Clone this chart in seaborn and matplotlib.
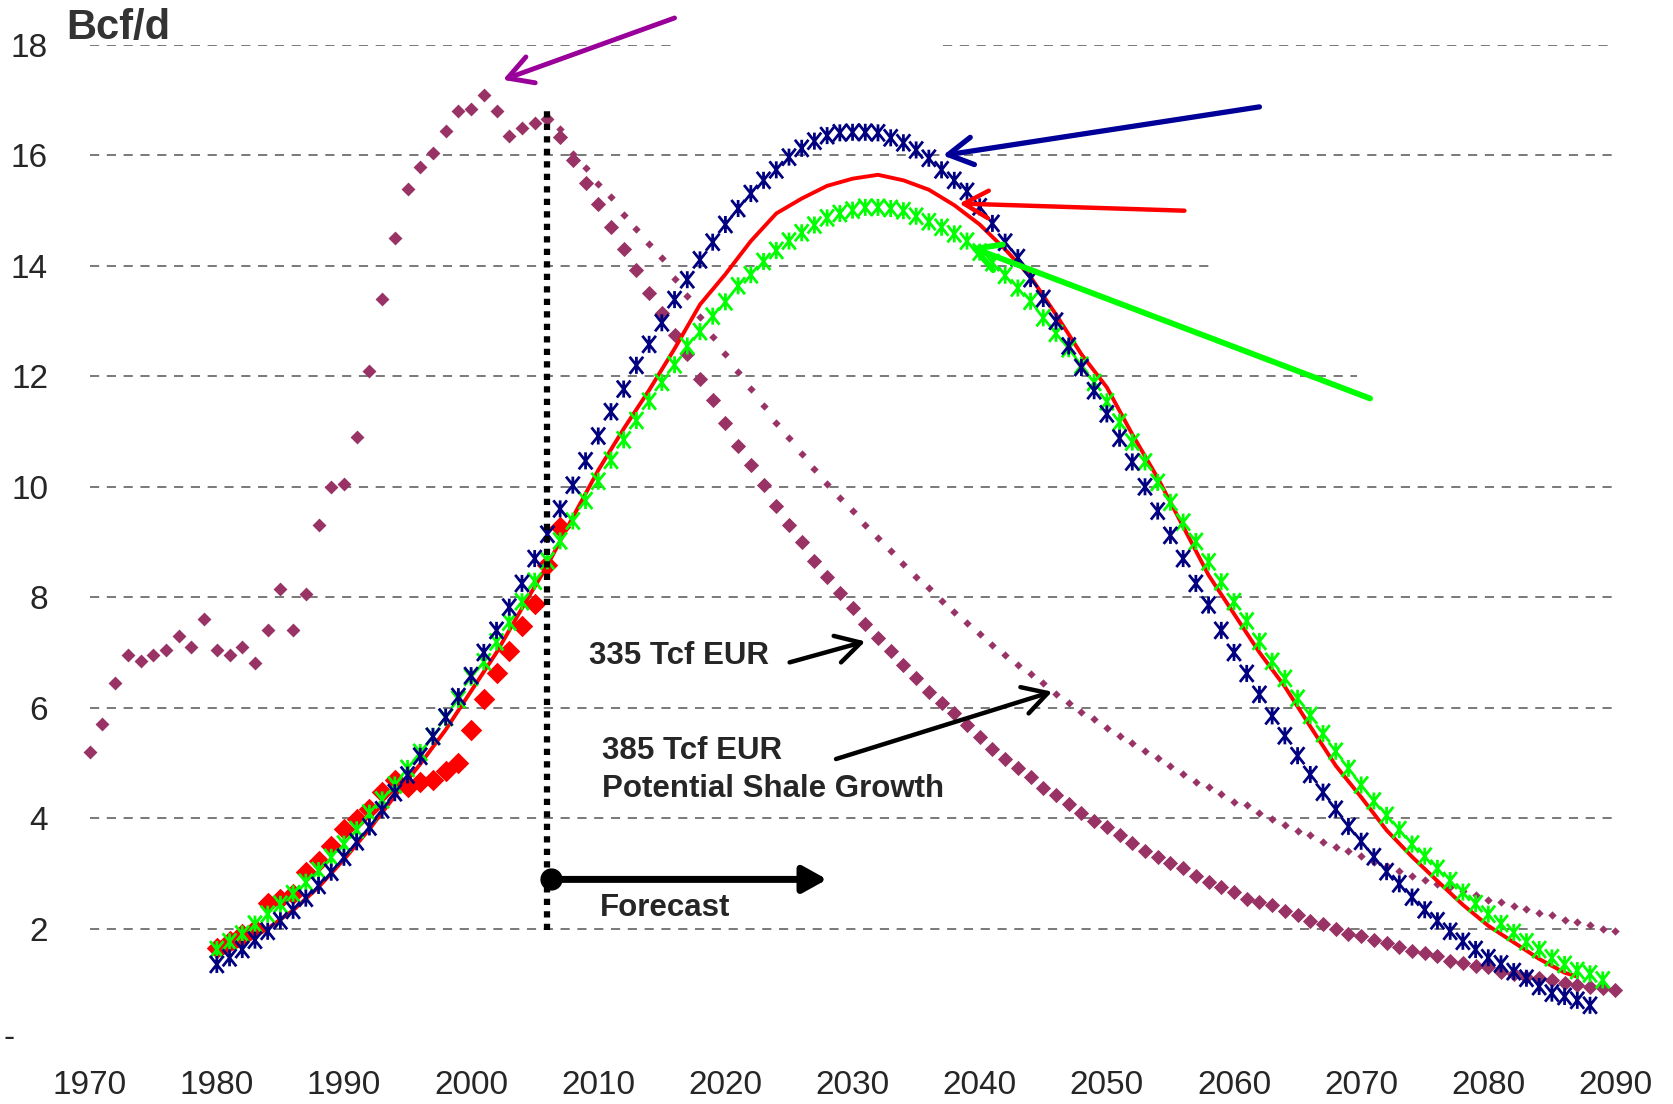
import matplotlib
matplotlib.use("Agg")
import matplotlib.pyplot as plt
from matplotlib.path import Path
import seaborn as sns


# ==========================================
# Data
# ==========================================

hist_years = list(range(1970, 2007))
hist_prod = [
    5.2, 5.7, 6.45, 6.95, 6.85, 6.95, 7.05, 7.3, 7.1, 7.6,
    7.05, 6.95, 7.1, 6.8, 7.4, 8.15, 7.4, 8.05, 9.3, 10.0,
    10.05, 10.9, 12.1, 13.4, 14.5, 15.4, 15.8, 16.05, 16.45, 16.8,
    16.85, 17.1, 16.8, 16.35, 16.5, 16.58, 16.66,
]

fc_years = list(range(2007, 2091))
fc_335 = [
    16.34, 15.92, 15.51, 15.12, 14.7, 14.31, 13.92, 13.51, 13.15, 12.75,
    12.4, 11.95, 11.57, 11.15, 10.74, 10.4, 10.03, 9.66, 9.3, 9.0,
    8.65, 8.36, 8.07, 7.8, 7.52, 7.27, 7.03, 6.78, 6.54, 6.29,
    6.08, 5.9, 5.68, 5.47, 5.25, 5.07, 4.9, 4.75, 4.55, 4.41,
    4.25, 4.09, 3.94, 3.83, 3.7, 3.55, 3.41, 3.3, 3.18, 3.09,
    2.95, 2.84, 2.75, 2.66, 2.54, 2.48, 2.42, 2.32, 2.24, 2.14,
    2.08, 1.99, 1.91, 1.87, 1.79, 1.73, 1.66, 1.59, 1.56, 1.5,
    1.42, 1.38, 1.32, 1.3, 1.22, 1.18, 1.13, 1.1, 1.07, 1.01,
    0.98, 0.95, 0.93, 0.89,
]
fc_385 = [
    16.48, 16.03, 15.77, 15.48, 15.25, 14.93, 14.67, 14.4, 14.15, 13.77,
    13.45, 13.07, 12.71, 12.4, 12.07, 11.77, 11.47, 11.15, 10.89, 10.6,
    10.32, 10.05, 9.8, 9.56, 9.3, 9.07, 8.83, 8.6, 8.36, 8.17,
    7.94, 7.73, 7.53, 7.33, 7.14, 6.96, 6.78, 6.61, 6.45, 6.24,
    6.08, 5.93, 5.8, 5.63, 5.49, 5.36, 5.21, 5.08, 4.95, 4.79,
    4.66, 4.56, 4.44, 4.3, 4.23, 4.09, 3.98, 3.88, 3.77, 3.69,
    3.56, 3.48, 3.41, 3.32, 3.21, 3.13, 3.05, 2.96, 2.87, 2.81,
    2.75, 2.68, 2.61, 2.52, 2.48, 2.4, 2.35, 2.28, 2.24, 2.16,
    2.12, 2.06, 2.0, 1.95,
]

shale_years = list(range(1980, 2008))
shale_prod = [
    1.64, 1.78, 1.9, 2.0, 2.47, 2.53, 2.63, 3.02, 3.23, 3.5,
    3.81, 3.99, 4.16, 4.48, 4.69, 4.57, 4.66, 4.69, 4.85, 5.0,
    5.59, 6.16, 6.63, 7.03, 7.48, 7.88, 8.58, 9.28,
]

fit_years = [
    1980, 1982, 1984, 1986, 1988, 1990, 1992, 1994, 1996, 1998,
    2000, 2002, 2004, 2006, 2008, 2010, 2012, 2014, 2016, 2018,
    2020, 2022, 2024, 2026, 2028, 2030, 2032, 2034, 2036, 2038,
    2040, 2042, 2044, 2046, 2048, 2050, 2052, 2054, 2056, 2058,
    2060, 2062, 2064, 2066, 2068, 2070, 2072, 2074, 2076, 2078,
    2080, 2082, 2084, 2086, 2087,
]
fit_prod = [
    1.5, 1.72, 2.0, 2.33, 2.75, 3.25, 3.8, 4.4, 4.98, 5.6,
    6.3, 7.0, 7.8, 8.58, 9.45, 10.3, 11.05, 11.75, 12.5, 13.3,
    13.85, 14.45, 14.95, 15.22, 15.45, 15.58, 15.65, 15.55, 15.38, 15.1,
    14.75, 14.3, 13.8, 13.12, 12.4, 11.8, 10.95, 10.16, 9.28, 8.4,
    7.7, 7.0, 6.38, 5.66, 4.95, 4.38, 3.78, 3.3, 2.86, 2.43,
    2.05, 1.75, 1.45, 1.2, 1.13,
]

high_years = list(range(1980, 2089))
high_prod = [
    1.35, 1.47, 1.62, 1.79, 1.95, 2.14, 2.33, 2.55, 2.78, 3.02,
    3.29, 3.57, 3.84, 4.15, 4.46, 4.78, 5.12, 5.48, 5.83, 6.2,
    6.58, 7.0, 7.4, 7.82, 8.25, 8.7, 9.14, 9.6, 10.03, 10.47,
    10.92, 11.36, 11.77, 12.2, 12.58, 12.97, 13.39, 13.75, 14.11, 14.43,
    14.75, 15.04, 15.31, 15.55, 15.74, 15.97, 16.13, 16.26, 16.36, 16.41,
    16.42, 16.42, 16.41, 16.32, 16.23, 16.1, 15.95, 15.74, 15.55, 15.35,
    15.07, 14.77, 14.43, 14.15, 13.77, 13.41, 13.0, 12.55, 12.16, 11.74,
    11.32, 10.88, 10.45, 10.0, 9.56, 9.12, 8.7, 8.25, 7.86, 7.4,
    7.0, 6.62, 6.24, 5.85, 5.49, 5.13, 4.79, 4.47, 4.16, 3.85,
    3.58, 3.3, 3.03, 2.81, 2.57, 2.34, 2.14, 1.95, 1.77, 1.62,
    1.47, 1.36, 1.22, 1.1, 0.95, 0.83, 0.77, 0.7, 0.61,
]

low_years = list(range(1980, 2090))
low_prod = [
    1.62, 1.76, 1.9, 2.08, 2.26, 2.44, 2.63, 2.84, 3.05, 3.29,
    3.53, 3.79, 4.09, 4.33, 4.6, 4.9, 5.19, 5.48, 5.82, 6.15,
    6.55, 6.83, 7.19, 7.55, 7.92, 8.29, 8.66, 9.02, 9.38, 9.75,
    10.1, 10.48, 10.85, 11.2, 11.55, 11.89, 12.21, 12.55, 12.81, 13.09,
    13.35, 13.64, 13.84, 14.08, 14.28, 14.45, 14.6, 14.74, 14.87, 14.95,
    15.01, 15.06, 15.06, 15.04, 15.0, 14.9, 14.8, 14.7, 14.58, 14.45,
    14.25, 14.06, 13.83, 13.6, 13.36, 13.06, 12.78, 12.5, 12.2, 11.89,
    11.54, 11.17, 10.81, 10.45, 10.08, 9.72, 9.36, 9.01, 8.64, 8.28,
    7.92, 7.57, 7.2, 6.84, 6.53, 6.17, 5.86, 5.53, 5.21, 4.9,
    4.6, 4.31, 4.05, 3.79, 3.53, 3.31, 3.09, 2.87, 2.66, 2.45,
    2.26, 2.09, 1.93, 1.76, 1.62, 1.47, 1.35, 1.24, 1.18, 1.07,
]

x_ticks = list(range(1970, 2091, 10))
x_tick_labels = [str(t) for t in x_ticks]
y_ticks = list(range(2, 19, 2))
y_tick_labels = [str(t) for t in y_ticks]


# ==========================================
# Style
# ==========================================

sns.set_style("white")
plt.rcParams["font.family"] = ["Liberation Sans", "DejaVu Sans"]

PURPLE = "#993366"
RED = "#FF0000"
NAVY = "#000080"
LIME = "#00FF00"

# Excel style asterisk: an X with a vertical bar through it
asterisk = Path(
    [(0, -1), (0, 1), (-0.8, -1), (0.8, 1), (-0.8, 1), (0.8, -1)],
    [Path.MOVETO, Path.LINETO, Path.MOVETO, Path.LINETO, Path.MOVETO, Path.LINETO],
)


fig = plt.figure(figsize=(16.73, 11.04), dpi=100)
ax = fig.add_axes([0.0536, 0.0589, 0.912, 0.9003])


# ==========================================
# Grid lines (with the gaps of the original)
# ==========================================

grid_kw = dict(color="#555555", linewidth=1.1, linestyles=(0, (6, 5)), zorder=1)
for yv in y_ticks:
    if yv == 18:
        ax.hlines(yv, 1970, 2016.0, **grid_kw)
        ax.hlines(yv, 2037.1, 2090, **grid_kw)
    elif yv == 14:
        ax.hlines(yv, 1970, 2058.2, **grid_kw)
    elif yv == 12:
        ax.hlines(yv, 1970, 2069.7, **grid_kw)
    else:
        ax.hlines(yv, 1970, 2090, **grid_kw)


# ==========================================
# Series
# ==========================================

sns.scatterplot(x=hist_years, y=hist_prod, marker="D", s=50,
                color=PURPLE, linewidth=0, zorder=2, ax=ax, clip_on=False)
sns.scatterplot(x=fc_years, y=fc_335, marker="D", s=60,
                color=PURPLE, linewidth=0, zorder=2, ax=ax, clip_on=False)
sns.scatterplot(x=fc_years, y=fc_385, marker="D", s=18,
                color=PURPLE, linewidth=0, zorder=2, ax=ax, clip_on=False)

sns.scatterplot(x=shale_years, y=shale_prod, marker="D", s=120,
                color=RED, linewidth=0, zorder=3, ax=ax, clip_on=False)

sns.lineplot(x=fit_years, y=fit_prod, color=RED, linewidth=2.8,
             zorder=4, ax=ax)

sns.scatterplot(x=low_years, y=low_prod, marker=asterisk, s=150,
                facecolor="none", edgecolor=LIME, linewidth=2.0,
                zorder=5, ax=ax, clip_on=False)
sns.scatterplot(x=high_years, y=high_prod, marker=asterisk, s=150,
                facecolor="none", edgecolor=NAVY, linewidth=2.0,
                zorder=6, ax=ax, clip_on=False)


# ==========================================
# Forecast marker line
# ==========================================

ax.vlines(2006, 1.97, 16.85, color="black", linewidth=4.5,
          linestyles=(0, (1, 1)), zorder=7)

ax.annotate("", xy=(2028.0, 2.89), xytext=(2006.3, 2.89),
            arrowprops=dict(arrowstyle="-|>,head_length=0.9,head_width=0.5",
                            mutation_scale=16, lw=5, color="black",
                            shrinkA=0, shrinkB=0), zorder=8)
ax.plot([2006.3], [2.89], marker="o", markersize=15, color="black",
        zorder=9, clip_on=False)
ax.text(2010.1, 2.37, "Forecast", fontsize=22.5, fontweight="bold",
        va="center", ha="left", zorder=9)


# ==========================================
# Annotations
# ==========================================

def pointer(tail, head, color, lw):
    ax.annotate("", xy=head, xytext=tail, annotation_clip=False,
                arrowprops=dict(arrowstyle="->,head_length=0.8,head_width=0.45",
                                mutation_scale=22, lw=lw, color=color,
                                shrinkA=0, shrinkB=0), zorder=8)


pointer((2016.0, 18.49), (2002.5, 17.37), "#990099", 3.5)
pointer((2062.0, 16.88), (2037.1, 16.0), "#000099", 3.8)
pointer((2056.1, 15.0), (2038.4, 15.13), RED, 3.2)
pointer((2070.7, 11.6), (2039.2, 14.35), LIME, 4.2)
pointer((2025.05, 6.82), (2031.0, 7.2), "black", 3.2)
pointer((2028.7, 5.07), (2045.7, 6.29), "black", 3.2)

ax.text(2009.3, 6.94, "335 Tcf EUR", fontsize=22.5, fontweight="bold",
        va="center", ha="left", zorder=9)
ax.text(2010.3, 5.22, "385 Tcf EUR", fontsize=22.5, fontweight="bold",
        va="center", ha="left", zorder=9)
ax.text(2010.3, 4.52, "Potential Shale Growth", fontsize=22.5,
        fontweight="bold", va="center", ha="left", zorder=9)

fig.text(0.0397, 0.965, "Bcf/d", fontsize=30, fontweight="bold",
         color="#333333", va="baseline", ha="left")
fig.text(0.002, 0.0589, "-", fontsize=24, va="center", ha="left")


# ==========================================
# Axes
# ==========================================

ax.set_xlim(1970, 2090)
ax.set_ylim(0, 18)
ax.set_xticks(x_ticks)
ax.set_xticklabels(x_tick_labels)
ax.set_yticks(y_ticks)
ax.set_yticklabels(y_tick_labels)
ax.tick_params(axis="both", length=0, labelsize=24)
ax.tick_params(axis="x", pad=22)
ax.tick_params(axis="y", pad=30)
ax.set_xlabel("")
ax.set_ylabel("")
sns.despine(ax=ax, left=True, bottom=True)
ax.grid(False)

fig.savefig("out.png", dpi=100)
